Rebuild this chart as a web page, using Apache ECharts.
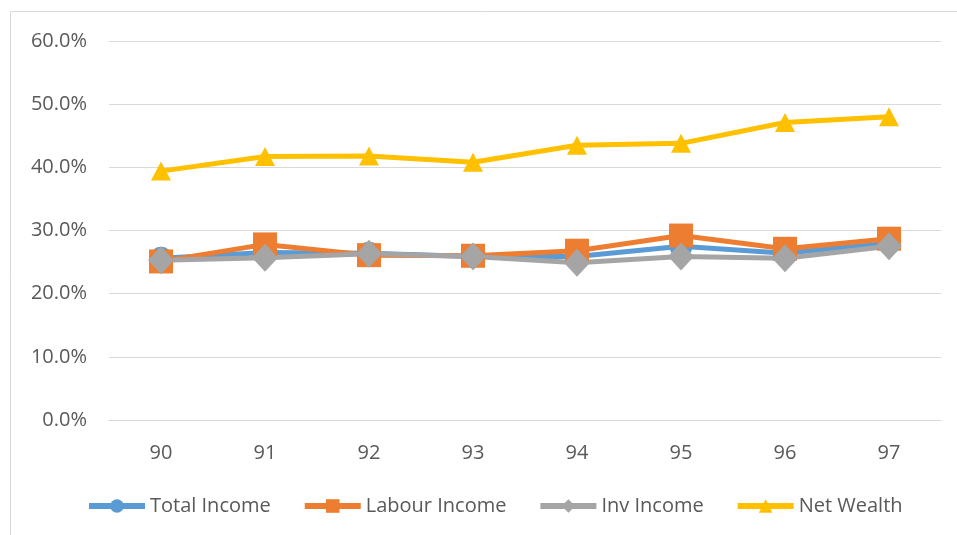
<!DOCTYPE html>
<html>
<head>
<meta charset="utf-8">
<style>
  html, body { margin: 0; padding: 0; background: #ffffff; }
  #chart { width: 957px; height: 535px; }
</style>
<script src="https://cdn.jsdelivr.net/npm/echarts@6/dist/echarts.min.js"></script>
</head>
<body>
<div id="chart"></div>
<script>
// Year labels along the horizontal axis
const categories = ['90', '91', '92', '93', '94', '95', '96', '97'];

// Shares in percent
const totalIncome  = [25.6, 26.5, 26.4, 25.9, 25.9, 27.5, 26.4, 28.0];
const labourIncome = [25.1, 27.8, 26.1, 26.0, 26.8, 29.2, 27.1, 28.7];
const invIncome    = [25.3, 25.7, 26.3, 25.9, 24.9, 25.9, 25.6, 27.5];
const netWealth    = [39.4, 41.7, 41.8, 40.8, 43.5, 43.8, 47.1, 48.0];

// Value axis ticks
const yMin = 0, yMax = 60, yStep = 10;

const FONT = '"Open Sans", "Noto Sans", sans-serif';
const TEXT = '#595959';
const GRIDLINE = '#D9D9D9';

function lineSeries(name, data, color, symbol, size) {
  return {
    name: name,
    type: 'line',
    data: data,
    symbol: symbol,
    symbolSize: size,
    showAllSymbol: true,
    lineStyle: { color: color, width: 5 },
    itemStyle: { color: color },
    emphasis: { disabled: true },
    animation: false
  };
}

const chart = echarts.init(document.getElementById('chart'), null, { renderer: 'canvas' });

chart.setOption({
  backgroundColor: '#ffffff',
  animation: false,
  graphic: [{
    type: 'rect',
    shape: { x: 10.5, y: 11.5, width: 980, height: 560 },
    style: { fill: 'none', stroke: GRIDLINE, lineWidth: 1 },
    silent: true
  }],
  grid: { left: 109, right: 16, top: 41, bottom: 115, containLabel: false },
  xAxis: {
    type: 'category',
    data: categories,
    boundaryGap: true,
    axisLine: { show: true, lineStyle: { color: GRIDLINE, width: 1 } },
    axisTick: { show: false },
    axisLabel: { color: TEXT, fontFamily: FONT, fontSize: 20, margin: 23 },
    splitLine: { show: false }
  },
  yAxis: {
    type: 'value',
    min: yMin, max: yMax, interval: yStep,
    axisLine: { show: false },
    axisTick: { show: false },
    axisLabel: {
      color: TEXT, fontFamily: FONT, fontSize: 20, margin: 22,
      formatter: v => v.toFixed(1) + '%'
    },
    splitLine: { lineStyle: { color: GRIDLINE, width: 1 } }
  },
  legend: {
    left: 86,
    top: 496,
    padding: 0,
    itemGap: 31,
    itemWidth: 56,
    itemHeight: 17,
    lineStyle: { width: 6 },
    textStyle: { color: TEXT, fontFamily: FONT, fontSize: 20 },
    data: ['Total Income', 'Labour Income', 'Inv Income', 'Net Wealth']
  },
  series: [
    lineSeries('Total Income', totalIncome, '#5B9BD5', 'circle', 23),
    lineSeries('Labour Income', labourIncome, '#ED7D31', 'rect', 24),
    lineSeries('Inv Income', invIncome, '#A5A5A5', 'diamond', [26, 28]),
    lineSeries('Net Wealth', netWealth, '#FFC000', 'triangle', [20, 19])
  ]
});
</script>
</body>
</html>
